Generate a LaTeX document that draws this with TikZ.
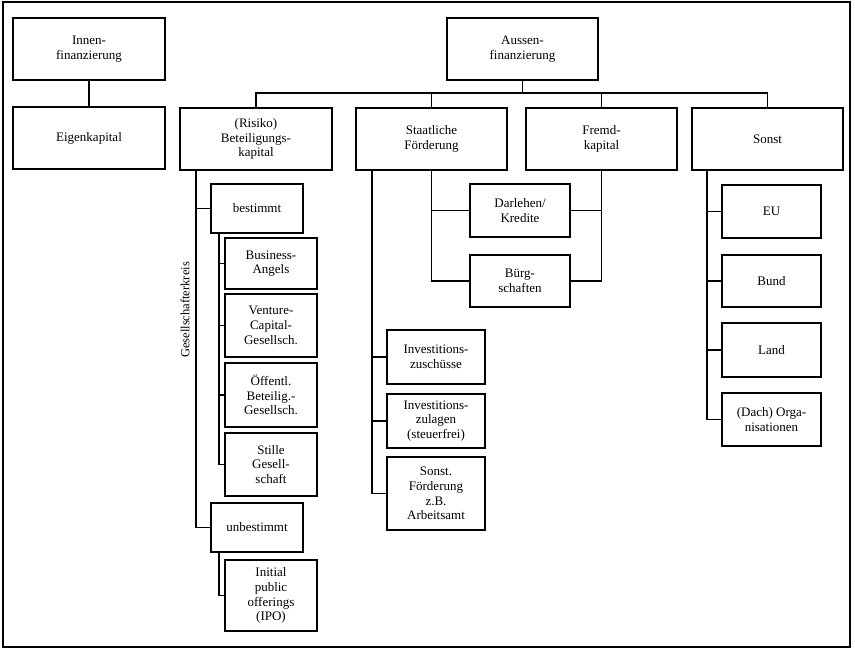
\documentclass[tikz,border=0pt]{standalone}
\usepackage{fontspec}
\setmainfont{Liberation Serif}
\begin{document}
\begin{tikzpicture}[x=1pt,y=-1pt,
  box/.style={draw, line width=1.5pt, rectangle, inner sep=2pt, align=center,
    font=\fontsize{13}{14.8}\selectfont},
  conn/.style={line width=1.5pt}]
\useasboundingbox (0,0) rectangle (855,650);
\draw[line width=1.5pt] (3,2) rectangle (850,647);

% top level
\node[box, minimum width=152pt, minimum height=62pt] (innen) at (89,49) {Innen-\\finanzierung};
\node[box, minimum width=152pt, minimum height=62pt] (eigen) at (89,138) {Eigenkapital};
\node[box, minimum width=151pt, minimum height=62pt] (aussen) at (522.5,49) {Aussen-\\finanzierung};

% second level
\node[box, minimum width=152pt, minimum height=62pt] (risiko) at (256,139) {(Risiko)\\Beteiligungs-\\kapital};
\node[box, minimum width=151pt, minimum height=62pt] (staat) at (431.5,139) {Staatliche\\Förderung};
\node[box, minimum width=151pt, minimum height=62pt] (fremd) at (601.5,139) {Fremd-\\kapital};
\node[box, minimum width=151pt, minimum height=62pt] (sonst) at (767.5,139) {Sonst};

% Beteiligungskapital branch
\node[box, minimum width=92pt, minimum height=49pt] (bestimmt) at (257,208.5) {bestimmt};
\node[box, minimum width=92pt, minimum height=51pt] (business) at (271,263.5) {Business-\\Angels};
\node[box, minimum width=92pt, minimum height=63pt] (venture) at (271,325.5) {Venture-\\Capital-\\Gesellsch.};
\node[box, minimum width=92pt, minimum height=64pt] (oeff) at (271,395) {Öffentl.\\Beteilig.-\\Gesellsch.};
\node[box, minimum width=92pt, minimum height=63pt] (stille) at (271,464.5) {Stille\\Gesell-\\schaft};
\node[box, minimum width=92pt, minimum height=49pt] (unbestimmt) at (257,527.5) {unbestimmt};
\node[box, minimum width=92pt, minimum height=71pt] (ipo) at (271,595.5) {Initial\\public\\offerings\\(IPO)};
\node[rotate=90, font=\fontsize{12.5}{14.6}\selectfont] (gk) at (185,310) {Gesellschafterkreis};

% Staatliche Foerderung branch
\node[box, minimum width=98pt, minimum height=54pt] (izusch) at (436,357) {Investitions-\\zuschüsse};
\node[box, minimum width=98pt, minimum height=54pt] (izulag) at (436,421) {Investitions-\\zulagen\\(steuerfrei)};
\node[box, minimum width=98pt, minimum height=73pt] (sonstf) at (436,493.5) {Sonst.\\Förderung\\z.B.\\Arbeitsamt};

% shared
\node[box, minimum width=100pt, minimum height=53pt] (darlehen) at (520,210.5) {Darlehen/\\Kredite};
\node[box, minimum width=100pt, minimum height=52pt] (buerg) at (520,281) {Bürg-\\schaften};

% Sonst branch
\node[box, minimum width=99pt, minimum height=53pt] (eu) at (771.5,211.5) {EU};
\node[box, minimum width=99pt, minimum height=52pt] (bund) at (771.5,281) {Bund};
\node[box, minimum width=99pt, minimum height=54pt] (land) at (771.5,350) {Land};
\node[box, minimum width=99pt, minimum height=53pt] (dach) at (771.5,419.5) {(Dach) Orga-\\nisationen};

% helper coordinates
\coordinate (bar) at (0,93);
\coordinate (rx) at (196,0);
\coordinate (bx) at (219,0);
\coordinate (sx) at (372,0);
\coordinate (sox) at (707,0);

% connectors
\draw[conn] (innen.south) -- (eigen.north);
\draw[conn] (aussen.south) -- (aussen.south |- bar);
\draw[conn] (risiko.north) -- (risiko.north |- bar) -- (sonst.north |- bar) -- (sonst.north);
\draw[conn] (staat.north |- bar) -- (staat.north);
\draw[conn] (fremd.north |- bar) -- (fremd.north);

\draw[conn] (rx |- risiko.south) |- (unbestimmt.west);
\draw[conn] (rx |- bestimmt.west) -- (bestimmt.west);
\draw[conn] (bx |- bestimmt.south) |- (stille.west);
\draw[conn] (bx |- business.west) -- (business.west);
\draw[conn] (bx |- venture.west) -- (venture.west);
\draw[conn] (bx |- oeff.west) -- (oeff.west);
\draw[conn] (bx |- unbestimmt.south) |- (ipo.west);

\draw[conn] (sx |- staat.south) |- (sonstf.west);
\draw[conn] (sx |- izusch.west) -- (izusch.west);
\draw[conn] (sx |- izulag.west) -- (izulag.west);

\draw[conn] (staat.south) |- (buerg.west);
\draw[conn] (staat.south |- darlehen.west) -- (darlehen.west);
\draw[conn] (fremd.south) |- (buerg.east);
\draw[conn] (fremd.south |- darlehen.east) -- (darlehen.east);

\draw[conn] (sox |- sonst.south) |- (dach.west);
\draw[conn] (sox |- eu.west) -- (eu.west);
\draw[conn] (sox |- bund.west) -- (bund.west);
\draw[conn] (sox |- land.west) -- (land.west);
\end{tikzpicture}
\end{document}
